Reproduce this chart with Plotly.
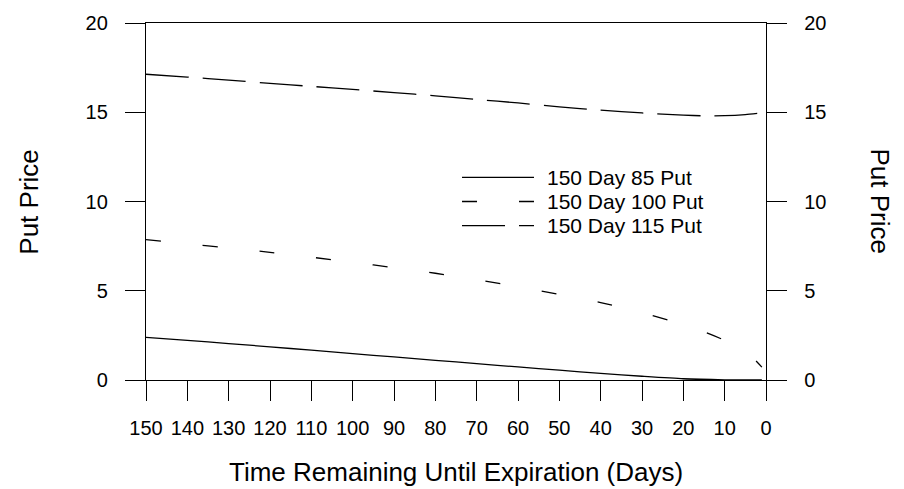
import plotly.graph_objects as go

# Data
days_85 = [150, 140, 130, 120, 110, 100, 90, 80, 70, 60, 50, 40, 30, 20, 10, 5, 1]
put_85 = [2.39, 2.22, 2.04, 1.86, 1.67, 1.48, 1.29, 1.10, 0.92, 0.73, 0.55, 0.37, 0.21, 0.07, 0.01, 0.00, 0.00]

days_100 = [150, 140, 130, 120, 110, 100, 90, 80, 70, 60, 50, 40, 30, 20, 15, 10, 5, 3, 1]
put_100 = [7.86, 7.63, 7.40, 7.15, 6.88, 6.60, 6.29, 5.98, 5.62, 5.22, 4.80, 4.34, 3.78, 3.10, 2.70, 2.22, 1.55, 1.20, 0.72]

days_115 = [150, 140, 130, 120, 110, 100, 90, 80, 70, 60, 50, 40, 30, 20, 15, 10, 5, 1]
put_115 = [17.13, 16.97, 16.80, 16.62, 16.45, 16.28, 16.10, 15.92, 15.72, 15.52, 15.30, 15.12, 14.96, 14.84, 14.80, 14.81, 14.87, 14.96]

series_names = ["150 Day 85 Put", "150 Day 100 Put", "150 Day 115 Put"]
series_dash = ["solid", "15px,42px", "43px,14px"]

x_ticks = list(range(0, 151, 10))
y_ticks = [0, 5, 10, 15, 20]

FONT = "Liberation Sans, Arial, sans-serif"
BLACK = "#000000"
LW = 1.3

fig = go.Figure()
for d, v, name, dash in zip([days_85, days_100, days_115], [put_85, put_100, put_115], series_names, series_dash):
    fig.add_trace(go.Scatter(x=d, y=v, mode="lines", name=name, showlegend=False,
                             line=dict(color=BLACK, width=LW, dash=dash, shape="spline", smoothing=0.6)))
# invisible trace to activate the right axis
fig.add_trace(go.Scatter(x=[None], y=[None], yaxis="y2", showlegend=False, hoverinfo="skip"))

axis_common = dict(showgrid=False, zeroline=False, showline=True, linecolor=BLACK, linewidth=LW,
                   ticks="outside", ticklen=20, tickwidth=LW, tickcolor=BLACK,
                   tickfont=dict(family=FONT, size=20, color=BLACK))

fig.update_layout(
    width=904, height=489,
    margin=dict(l=146, r=138, t=18, b=109),
    paper_bgcolor="white", plot_bgcolor="white",
    showlegend=False,
    xaxis=dict(range=[150, 0], tickvals=x_ticks, mirror=True, ticklabelstandoff=10, **axis_common),
    yaxis=dict(range=[0, 20], tickvals=y_ticks, ticklabelstandoff=13, **axis_common),
    yaxis2=dict(range=[0, 20], tickvals=y_ticks, overlaying="y", side="right", anchor="x",
                ticklabelstandoff=13, **axis_common),
)

# Legend drawn manually (line samples + labels)
leg_y = [0.5677, 0.5, 0.4323]
for name, dash, yy in zip(series_names, series_dash, leg_y):
    fig.add_shape(type="line", xref="paper", yref="paper", x0=0.5097, x1=0.6258, y0=yy, y1=yy,
                  line=dict(color=BLACK, width=LW, dash=dash))
    fig.add_annotation(text=name, xref="paper", yref="paper", x=0.6435, y=yy, xanchor="left",
                       yanchor="middle", showarrow=False, font=dict(family=FONT, size=21, color=BLACK))

# Axis titles
fig.add_annotation(text="Time Remaining Until Expiration (Days)", xref="paper", yref="paper",
                   x=0.5, y=-0.257, xanchor="center", yanchor="middle", showarrow=False,
                   font=dict(family=FONT, size=26, color=BLACK))
fig.add_annotation(text="Put Price", xref="paper", yref="paper", x=-0.19, y=0.5, textangle=-90,
                   xanchor="center", yanchor="middle", showarrow=False,
                   font=dict(family=FONT, size=26, color=BLACK))
fig.add_annotation(text="Put Price", xref="paper", yref="paper", x=1.184, y=0.5, textangle=90,
                   xanchor="center", yanchor="middle", showarrow=False,
                   font=dict(family=FONT, size=26, color=BLACK))

fig.write_html("out.html")
